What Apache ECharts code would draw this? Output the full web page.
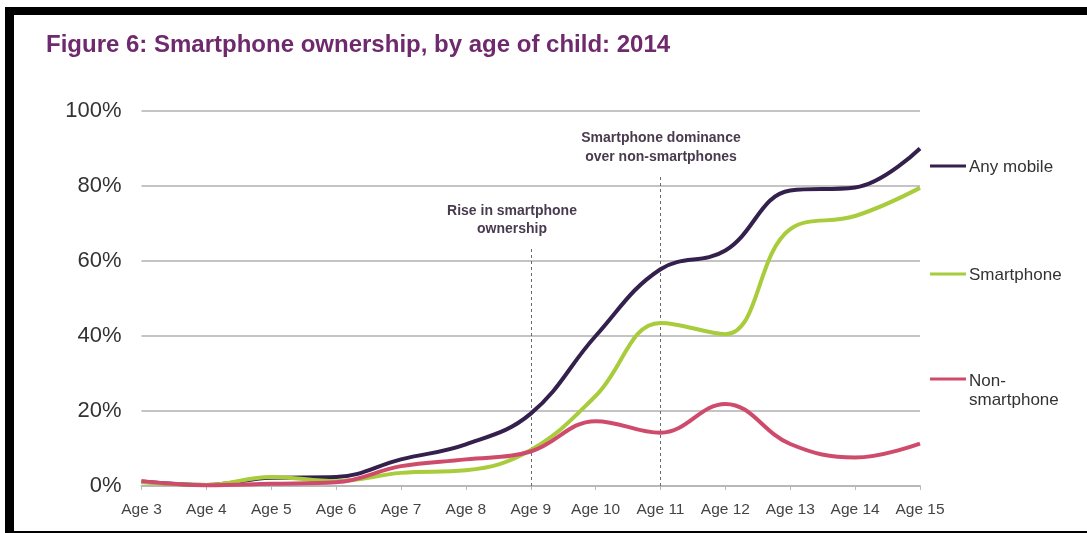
<!DOCTYPE html>
<html>
<head>
<meta charset="utf-8">
<script src="https://cdn.jsdelivr.net/npm/echarts@6/dist/echarts.min.js"></script>
<style>
html,body{margin:0;padding:0;background:#fff;}
#chart{width:1087px;height:533px;}
</style>
</head>
<body>
<div id="chart"></div>
<script>
const categories = ['Age 3','Age 4','Age 5','Age 6','Age 7','Age 8','Age 9','Age 10','Age 11','Age 12','Age 13','Age 14','Age 15'];
const anyMobile  = [1.2, 0.3, 2.2, 2.4, 7.1, 11.1, 19.3, 40, 57.8, 62.8, 78.8, 79.6, 90];
const smartphone = [1.0, 0.3, 2.4, 1.3, 3.5, 4.2, 9.6, 24, 43.5, 40.5, 68.5, 72, 79.5];
const nonSmart   = [1.3, 0.2, 0.6, 1.0, 5.3, 7.1, 9.2, 17.3, 14.2, 21.9, 11.2, 7.6, 11.3];
const yTicks = [0, 20, 40, 60, 80, 100];
const seriesNames = ['Any mobile', 'Smartphone', 'Non-\nsmartphone'];
const annotations = [
  {age: 'Age 9', top: 64, lines: ['Rise in smartphone', 'ownership']},
  {age: 'Age 11', top: 83, lines: ['Smartphone dominance', 'over non-smartphones']}
];

const colors = ['#34204C', '#A8CC3C', '#CF4B6C'];
const chart = echarts.init(document.getElementById('chart'), null, {renderer: 'canvas'});

const FONT = '"Liberation Sans", Arial, sans-serif';
const gridLeft = 141.5, gridRight = 167, gridTop = 111, gridBottom = 47;

function mkSeries(name, data, color, extra) {
  return Object.assign({
    name: name,
    type: 'line',
    data: data,
    smooth: 0.4,
    symbol: 'none',
    lineStyle: {color: color, width: 4},
    itemStyle: {color: color},
    z: 3
  }, extra || {});
}

const markLineData = annotations.map(a => [
  {coord: [a.age, 0]},
  {coord: [a.age, a.top]}
]);

const annoFont = 'bold 14px ' + FONT;
const legendFont = '17px ' + FONT;

const option = {
  animation: false,
  backgroundColor: '#fff',
  title: {
    text: 'Figure 6: Smartphone ownership, by age of child: 2014',
    left: 41, top: 28,
    textStyle: {color: '#6E2A6C', fontSize: 24, fontWeight: 'bold', fontFamily: FONT}
  },
  grid: {left: gridLeft, right: gridRight, top: gridTop, bottom: gridBottom, containLabel: false},
  xAxis: {
    type: 'category',
    data: categories,
    boundaryGap: false,
    axisLine: {lineStyle: {color: '#b8b8b8', width: 2}},
    axisTick: {show: true, length: 4, interval: 0, lineStyle: {color: '#b8b8b8', width: 1}},
    axisLabel: {color: '#444', fontSize: 15.5, margin: 16, interval: 0, hideOverlap: false, fontFamily: FONT}
  },
  yAxis: {
    type: 'value',
    min: yTicks[0], max: yTicks[yTicks.length - 1], interval: yTicks[1] - yTicks[0],
    axisLine: {show: false},
    axisTick: {show: false},
    splitLine: {lineStyle: {color: '#c4c4c4', width: 2}},
    axisLabel: {color: '#333', fontSize: 22, margin: 20, formatter: '{value}%', fontFamily: FONT}
  },
  series: [
    mkSeries(seriesNames[0], anyMobile, colors[0], {
      markLine: {
        silent: true,
        symbol: 'none',
        label: {show: false},
        lineStyle: {color: '#6a6a6a', width: 1, type: [3, 3]},
        data: markLineData,
        z: 1
      }
    }),
    mkSeries(seriesNames[1], smartphone, colors[1]),
    mkSeries(seriesNames[2], nonSmart, colors[2])
  ],
  graphic: [
    // frame
    {type: 'rect', shape: {x: 5, y: 7, width: 1082, height: 8}, style: {fill: '#000'}, z: 100},
    {type: 'rect', shape: {x: 5, y: 7, width: 9, height: 526}, style: {fill: '#000'}, z: 100},
    {type: 'rect', shape: {x: 5, y: 531, width: 1082, height: 2}, style: {fill: '#000'}, z: 100},
    // annotations
    {type: 'text', x: 512, y: 211, style: {text: annotations[0].lines[0], font: annoFont, fill: '#4a3a50', align: 'center', verticalAlign: 'middle'}},
    {type: 'text', x: 512, y: 229, style: {text: annotations[0].lines[1], font: annoFont, fill: '#4a3a50', align: 'center', verticalAlign: 'middle'}},
    {type: 'text', x: 661, y: 138, style: {text: annotations[1].lines[0], font: annoFont, fill: '#4a3a50', align: 'center', verticalAlign: 'middle'}},
    {type: 'text', x: 661, y: 157, style: {text: annotations[1].lines[1], font: annoFont, fill: '#4a3a50', align: 'center', verticalAlign: 'middle'}},
    // legend
    {type: 'line', shape: {x1: 930, y1: 166, x2: 966, y2: 166}, style: {stroke: colors[0], lineWidth: 3}},
    {type: 'text', x: 969, y: 167, style: {text: seriesNames[0], font: legendFont, fill: '#333', verticalAlign: 'middle'}},
    {type: 'line', shape: {x1: 930, y1: 274, x2: 966, y2: 274}, style: {stroke: colors[1], lineWidth: 3}},
    {type: 'text', x: 969, y: 275, style: {text: seriesNames[1], font: legendFont, fill: '#333', verticalAlign: 'middle'}},
    {type: 'line', shape: {x1: 930, y1: 379, x2: 966, y2: 379}, style: {stroke: colors[2], lineWidth: 3}},
    {type: 'text', x: 969, y: 372, style: {text: seriesNames[2], font: legendFont, fill: '#333', verticalAlign: 'top', lineHeight: 19}}
  ]
};
chart.setOption(option);
</script>
</body>
</html>
